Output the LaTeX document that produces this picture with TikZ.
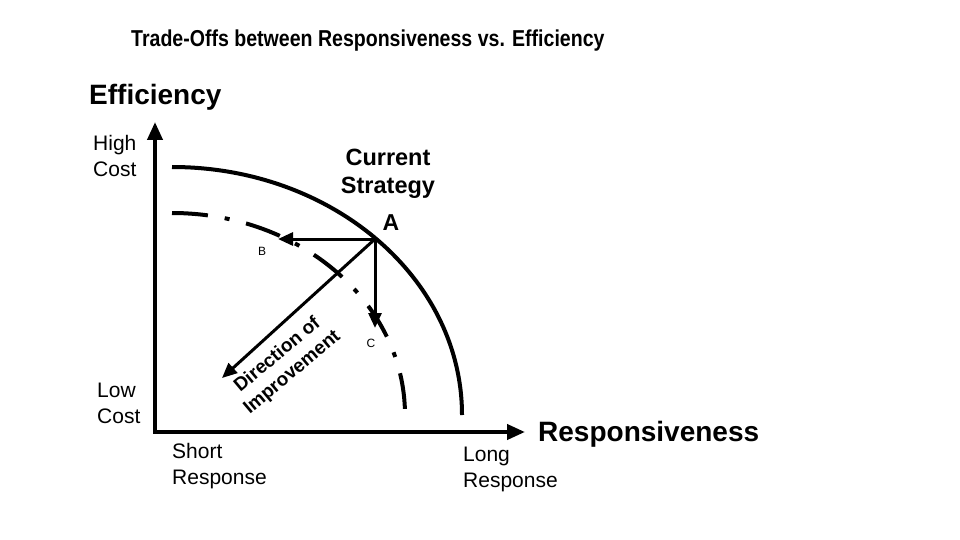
\documentclass[tikz,border=0pt]{standalone}
\usepackage{fontspec}
\setmainfont{Liberation Sans}
\newfontfamily\titlefont[FakeStretch=0.85]{Liberation Sans}
\usetikzlibrary{arrows.meta}

\begin{document}
\begin{tikzpicture}[x=1pt,y=-1pt,
        axis/.style={line width=4pt,line join=miter},
        move/.style={line width=3pt,-{Triangle[length=15pt,width=13pt]}},
        axis label/.style={font=\bfseries\fontsize{28}{32}\selectfont,anchor=west,inner sep=0pt},
        tick label/.style={font=\fontsize{21}{26}\selectfont,align=left,anchor=west,inner sep=0pt},
        point label/.style={font=\fontsize{12}{14}\selectfont,inner sep=0pt}]
    \useasboundingbox (0,0) rectangle (960,540);

    % title and axes
    \node[anchor=west,inner sep=0pt,font=\titlefont\bfseries\fontsize{23}{26}\selectfont] at (131,41) (title) {Trade-Offs between Responsiveness vs. Efficiency};
    \coordinate (o) at (155,432);
    \coordinate (ytop) at (155,122);
    \coordinate (xend) at (525,432);
    \draw[axis,{Triangle[length=18pt,width=15pt]}-{Triangle[length=18pt,width=15pt]}] (ytop) -- (o) -- (xend);

    \node[axis label] at (89,97) (eff) {Efficiency};
    \node[axis label] at (538,434) (resp) {Responsiveness};
    \node[tick label] at (93,156) (high) {High\\Cost};
    \node[tick label] at (97,403) (low) {Low\\Cost};
    \node[tick label] at (172,466) (short) {Short\\Response};
    \node[tick label] at (463,469) (long) {Long\\Response};

    % frontiers
    \draw[line width=4pt] (172,167) arc[start angle=270,end angle=360,x radius=290,y radius=248];
    \draw[line width=4pt,dash pattern=on 36pt off 17pt on 5pt off 17pt] (172,213) arc[start angle=270,end angle=360,x radius=233,y radius=202];

    % current strategy and moves
    \coordinate (A) at (375,239);
    \coordinate (B) at (278,239);
    \coordinate (C) at (375,328);
    \coordinate (D) at (222,378);
    \node[align=center,inner sep=0pt,font=\bfseries\fontsize{23.5}{28}\selectfont] at (388,174) (strat) {Current\\Strategy};
    \node[inner sep=0pt,font=\bfseries\fontsize{23}{26}\selectfont] at (391,223) (alabel) {A};
    \node[point label] at (262,251) (blabel) {B};
    \node[point label] at (371,343) (clabel) {C};

    \path[move]
        (A) edge (B)
        (A) edge (C)
        (A) edge (D);

    \node[rotate=40,align=center,inner sep=0pt,font=\bfseries\fontsize{19}{23}\selectfont] at (285,364) (dir) {Direction of\\Improvement};
\end{tikzpicture}
\end{document}
